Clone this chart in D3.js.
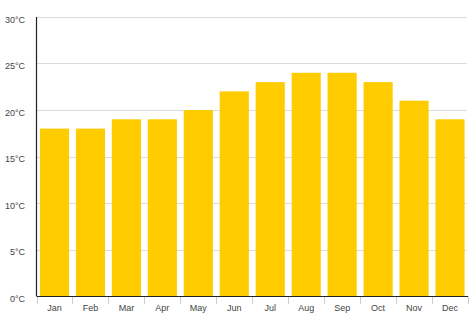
<!DOCTYPE html>
<html>
<head>
<meta charset="utf-8">
<script src="https://cdn.jsdelivr.net/npm/d3@7"></script>
<style>
  body { margin: 0; background: #fff; }
  svg { display: block; font-family: "Liberation Sans", Arial, sans-serif; }
</style>
</head>
<body>
<svg id="chart" width="470" height="323"></svg>
<script>
const months = ["Jan", "Feb", "Mar", "Apr", "May", "Jun", "Jul", "Aug", "Sep", "Oct", "Nov", "Dec"];
const temps = [18, 18, 19, 19, 20, 22, 23, 24, 24, 23, 21, 19];
const yTicks = [0, 5, 10, 15, 20, 25, 30];

const svg = d3.select("#chart");
const plotLeft = 36.5, plotRight = 468, plotTop = 17, plotBottom = 296;

const x = d3.scaleBand().domain(months).range([plotLeft, plotRight]).paddingInner(0.19).paddingOuter(0.095);
const y = d3.scaleLinear().domain([0, 30]).range([plotBottom, plotTop]);

// grid
svg.append("g")
  .selectAll("line")
  .data(yTicks.filter(d => d > 0))
  .join("line")
  .attr("x1", plotLeft).attr("x2", plotRight - 1)
  .attr("y1", d => Math.round(y(d)) + 0.5).attr("y2", d => Math.round(y(d)) + 0.5)
  .attr("stroke", "#dcdcdc");

// y labels
svg.append("g")
  .selectAll("text")
  .data(yTicks)
  .join("text")
  .attr("x", 25).attr("y", d => y(d) + 5.5)
  .attr("text-anchor", "end")
  .attr("font-size", 9)
  .attr("fill", "#444")
  .text(d => d + "°C");

// bars
svg.append("g")
  .selectAll("rect")
  .data(temps)
  .join("rect")
  .attr("x", (d, i) => x(months[i]))
  .attr("width", x.bandwidth())
  .attr("y", d => y(d))
  .attr("height", d => plotBottom - y(d))
  .attr("fill", "#ffcc00");

// x ticks at category boundaries
const step = x.step();
svg.append("g")
  .selectAll("line")
  .data(d3.range(months.length + 1))
  .join("line")
  .attr("x1", i => Math.round(plotLeft + i * step) + 0.5)
  .attr("x2", i => Math.round(plotLeft + i * step) + 0.5)
  .attr("y1", plotBottom).attr("y2", plotBottom + 8)
  .attr("stroke", "#ccc");

// x labels
svg.append("g")
  .selectAll("text")
  .data(months)
  .join("text")
  .attr("x", d => x(d) + x.bandwidth() / 2)
  .attr("y", 311)
  .attr("text-anchor", "middle")
  .attr("font-size", 9)
  .attr("fill", "#444")
  .text(d => d);

// axis lines
svg.append("line")
  .attr("x1", plotLeft).attr("x2", plotLeft)
  .attr("y1", plotTop).attr("y2", plotBottom)
  .attr("stroke", "#222").attr("stroke-width", 1.2);
svg.append("line")
  .attr("x1", plotLeft).attr("x2", plotRight)
  .attr("y1", plotBottom + 0.5).attr("y2", plotBottom + 0.5)
  .attr("stroke", "#222").attr("stroke-width", 1.2);
</script>
</body>
</html>
